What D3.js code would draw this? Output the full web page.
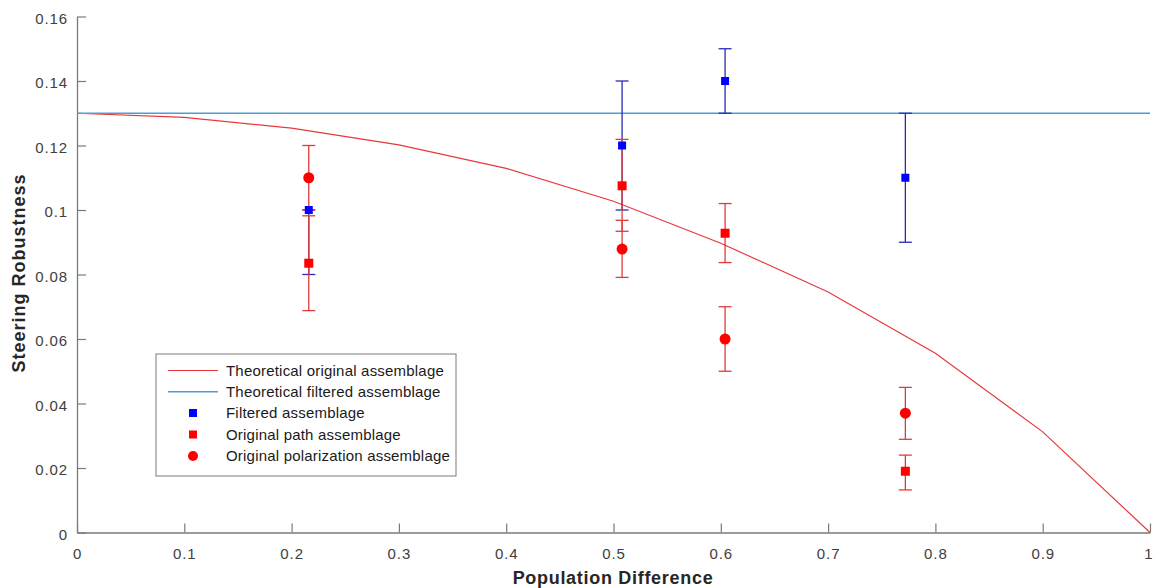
<!DOCTYPE html>
<html><head><meta charset="utf-8">
<script src="https://cdn.jsdelivr.net/npm/d3@7"></script>
<style>body{margin:0;background:#fff;} svg{display:block;font-family:"Liberation Sans",Arial,sans-serif;}</style>
</head><body><svg id="c" width="1153" height="588"></svg>
<script>
// Data
const xTicks = [0,0.1,0.2,0.3,0.4,0.5,0.6,0.7,0.8,0.9,1];
const xTickLabels = ["0","0.1","0.2","0.3","0.4","0.5","0.6","0.7","0.8","0.9","1"];
const yTicks = [0,0.02,0.04,0.06,0.08,0.1,0.12,0.14,0.16];
const yTickLabels = ["0","0.02","0.04","0.06","0.08","0.1","0.12","0.14","0.16"];
const theoX = [0,0.1,0.2,0.3,0.4,0.5,0.6,0.7,0.8,0.9,1.0];
const theoOriginal = [0.13,0.1287,0.1254,0.1202,0.1129,0.1027,0.0897,0.0746,0.0556,0.0312,0];
const theoFiltered = [0.13,0.13,0.13,0.13,0.13,0.13,0.13,0.13,0.13,0.13,0.13];
const measX = [0.216,0.508,0.604,0.772];
const filteredVal = [0.10,0.12,0.14,0.11];
const filteredLo = [0.08,0.10,0.13,0.09];
const filteredHi = [0.10,0.14,0.15,0.13];
const pathVal = [0.0835,0.1075,0.0928,0.019];
const pathLo = [0.0688,0.0934,0.0837,0.0132];
const pathHi = [0.0982,0.1219,0.1020,0.0240];
const polVal = [0.110,0.0879,0.060,0.037];
const polLo = [0.100,0.0791,0.050,0.0289];
const polHi = [0.120,0.0968,0.070,0.045];
const legendLabels = ["Theoretical original assemblage","Theoretical filtered assemblage","Filtered assemblage","Original path assemblage","Original polarization assemblage"];

const svg = d3.select("#c");
const x = d3.scaleLinear().domain([0,1]).range([77,1150]);
const y = d3.scaleLinear().domain([0,0.16]).range([532.5,16.5]);
const axisCol = "#7a7a7a", textCol = "#404040";

// axes
const gx = svg.append("g").attr("transform","translate(0,532.5)")
  .call(d3.axisBottom(x).tickValues(xTicks).tickFormat((d,i)=>xTickLabels[i]).tickSizeInner(-9).tickSizeOuter(0));
const gy = svg.append("g").attr("transform","translate(77,0)")
  .call(d3.axisLeft(y).tickValues(yTicks).tickFormat((d,i)=>yTickLabels[i]).tickSizeInner(-9).tickSizeOuter(0));
[gx,gy].forEach(g=>{
  g.select(".domain").attr("stroke",axisCol).attr("stroke-width",1.3);
  g.selectAll(".tick line").attr("stroke",axisCol).attr("stroke-width",1.2);
  g.selectAll(".tick text").attr("fill",textCol).attr("font-size",15).attr("letter-spacing","0.9px")
    .attr("font-family","Liberation Sans, Arial, sans-serif");
});
gx.selectAll(".tick text").attr("y",26).attr("dy",null);
gx.selectAll(".tick text").filter(d=>d===1).attr("text-anchor","end").attr("x",2).attr("letter-spacing","0px");
gy.selectAll(".tick text").attr("x",-9).attr("dy","0.45em");

svg.append("text").attr("x",613).attr("y",584).attr("text-anchor","middle").attr("letter-spacing","0.7px")
  .attr("font-size",18).attr("font-weight","bold").attr("fill","#262626").text("Population Difference");
svg.append("text").attr("transform","translate(25,273) rotate(-90)").attr("text-anchor","middle").attr("letter-spacing","1px")
  .attr("font-size",18).attr("font-weight","bold").attr("fill","#262626").text("Steering Robustness");

const line = d3.line().x((d)=>x(d[0])).y(d=>y(d[1]));
const redLine = "#e8383d", blueLine = "#4a9ed6";
svg.append("path").attr("d",line(theoX.map((v,i)=>[v,theoOriginal[i]]))).attr("fill","none").attr("stroke",redLine).attr("stroke-width",1.2);
svg.append("path").attr("d",line(theoX.map((v,i)=>[v,theoFiltered[i]]))).attr("fill","none").attr("stroke",blueLine).attr("stroke-width",1.5);

function errbars(vals,lo,hi,col){
  const g = svg.append("g").attr("stroke",col).attr("stroke-width",1.3);
  measX.forEach((mx,i)=>{
    const cx = x(mx);
    g.append("line").attr("x1",cx).attr("x2",cx).attr("y1",y(lo[i])).attr("y2",y(hi[i]));
    g.append("line").attr("x1",cx-6.5).attr("x2",cx+6.5).attr("y1",y(lo[i])).attr("y2",y(lo[i]));
    g.append("line").attr("x1",cx-6.5).attr("x2",cx+6.5).attr("y1",y(hi[i])).attr("y2",y(hi[i]));
  });
}
errbars(filteredVal,filteredLo,filteredHi,"#2a2ab8");
errbars(pathVal,pathLo,pathHi,"#e23a3a");
errbars(polVal,polLo,polHi,"#e23a3a");

function squares(vals,col,s){
  svg.append("g").selectAll("rect").data(measX).join("rect")
    .attr("x",d=>x(d)-s/2).attr("y",(d,i)=>y(vals[i])-s/2).attr("width",s).attr("height",s).attr("fill",col);
}
squares(pathVal,"#ff0000",9);
svg.append("g").selectAll("circle").data(measX).join("circle")
  .attr("cx",d=>x(d)).attr("cy",(d,i)=>y(polVal[i])).attr("r",5.5).attr("fill","#ff0000");
squares(filteredVal,"#0000ff",8);

// legend
const lg = svg.append("g");
lg.append("rect").attr("x",156).attr("y",354).attr("width",300).attr("height",122)
  .attr("fill","#fff").attr("stroke","#7a7a7a").attr("stroke-width",1);
const ly = [370.5,391.8,413,434.5,456];
lg.append("line").attr("x1",168).attr("x2",218).attr("y1",ly[0]).attr("y2",ly[0]).attr("stroke",redLine).attr("stroke-width",1.2);
lg.append("line").attr("x1",168).attr("x2",218).attr("y1",ly[1]).attr("y2",ly[1]).attr("stroke",blueLine).attr("stroke-width",1.5);
lg.append("rect").attr("x",193-4).attr("y",ly[2]-4).attr("width",8).attr("height",8).attr("fill","#0000ff");
lg.append("rect").attr("x",193-4).attr("y",ly[3]-4).attr("width",8).attr("height",8).attr("fill","#ff0000");
lg.append("circle").attr("cx",193).attr("cy",ly[4]).attr("r",5).attr("fill","#ff0000");
legendLabels.forEach((t,i)=>{
  lg.append("text").attr("x",226).attr("y",ly[i]).attr("dy","0.36em").attr("font-size",15).attr("letter-spacing","0.2px")
    .attr("fill","#1a1a1a").text(t);
});
</script></body></html>
